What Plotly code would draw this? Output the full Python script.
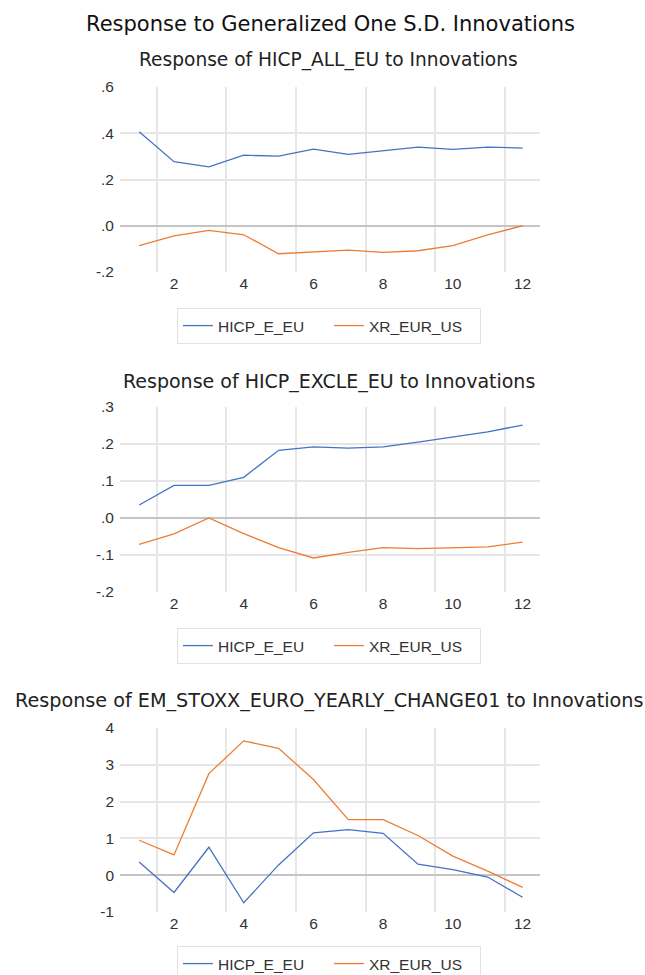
import plotly.graph_objects as go

periods = list(range(1, 13))
series_names = ["HICP_E_EU", "XR_EUR_US"]

p1_hicp = [0.406, 0.277, 0.255, 0.305, 0.301, 0.331, 0.309, 0.326, 0.340, 0.330, 0.340, 0.336]
p1_xr = [-0.086, -0.044, -0.020, -0.039, -0.121, -0.112, -0.105, -0.115, -0.108, -0.086, -0.039, 0.0]

p2_hicp = [0.035, 0.088, 0.088, 0.110, 0.183, 0.192, 0.189, 0.192, 0.205, 0.219, 0.233, 0.251]
p2_xr = [-0.071, -0.043, 0.0, -0.042, -0.080, -0.108, -0.093, -0.080, -0.083, -0.081, -0.078, -0.065]

p3_hicp = [0.36, -0.47, 0.76, -0.75, 0.28, 1.15, 1.24, 1.14, 0.30, 0.15, -0.05, -0.60]
p3_xr = [0.95, 0.55, 2.76, 3.65, 3.45, 2.60, 1.51, 1.51, 1.08, 0.52, 0.11, -0.33]

main_title = "Response to Generalized One S.D. Innovations"
panel_titles = [
    "Response of HICP_ALL_EU to Innovations",
    "Response of HICP_EXCLE_EU to Innovations",
    "Response of EM_STOXX_EURO_YEARLY_CHANGE01 to Innovations",
]
x_tickvals = [2, 4, 6, 8, 10, 12]
x_gridvals = [1.5, 3.5, 5.5, 7.5, 9.5, 11.5]
y_ticks = [
    ([-0.2, 0.0, 0.2, 0.4, 0.6], ["-.2", ".0", ".2", ".4", ".6"], [-0.2, 0.6]),
    ([-0.2, -0.1, 0.0, 0.1, 0.2, 0.3], ["-.2", "-.1", ".0", ".1", ".2", ".3"], [-0.2, 0.3]),
    ([-1, 0, 1, 2, 3, 4], ["-1", "0", "1", "2", "3", "4"], [-1, 4]),
]

colors = ["#4472C4", "#ED7D31"]
W, H = 645, 975
FONT = "Liberation Sans, Arial, sans-serif"
TFONT = "DejaVu Sans, sans-serif"

# plot area pixel boxes (top, bottom)
boxes = [(87, 272), (407, 592), (728, 912)]
x_left, x_right = 120, 540
legend_tops = [308, 628, 946]
title_ys = [60, 381, 700]
title_sizes = [18.6, 19.0, 19.2]

fig = go.Figure()
data = [(p1_hicp, p1_xr), (p2_hicp, p2_xr), (p3_hicp, p3_xr)]

for i, (hicp, xr) in enumerate(data):
    sfx = "" if i == 0 else str(i + 1)
    leg = "legend" if i == 0 else f"legend{i + 1}"
    for name, vals, col in zip(series_names, (hicp, xr), colors):
        fig.add_trace(go.Scatter(
            x=periods, y=vals, mode="lines", name=name,
            line=dict(color=col, width=1.3),
            xaxis="x" + sfx, yaxis="y" + sfx, legend=leg,
        ))
    top, bot = boxes[i]
    tv, tt, rng = y_ticks[i]
    fig.layout["xaxis" + sfx] = dict(
        domain=[x_left / W, x_right / W], range=[0.45, 12.5],
        tickvals=x_tickvals, ticktext=[str(v) for v in x_tickvals],
        showgrid=False, zeroline=False, showline=False, ticks="",
        tickfont=dict(size=15.5, color="#333333", family=FONT),
        minor=dict(tickvals=x_gridvals, showgrid=True, gridcolor="#e6e6e6", gridwidth=1.5, ticks=""),
        anchor="y" + sfx, fixedrange=True, automargin=False,
    )
    fig.layout["yaxis" + sfx] = dict(
        domain=[1 - bot / H, 1 - top / H], range=rng,
        tickvals=tv, ticktext=tt,
        showgrid=True, gridcolor="#e6e6e6", gridwidth=1.5,
        zeroline=True, zerolinecolor="#c4c4c4", zerolinewidth=1.5,
        showline=False, ticks="", ticklabelstandoff=5,
        tickfont=dict(size=15.5, color="#333333", family=FONT),
        anchor="x" + sfx, fixedrange=True, automargin=False,
    )
    fig.layout[leg] = dict(
        orientation="h", x=0.51, xanchor="center", y=1 - legend_tops[i] / H, yanchor="top",
        bordercolor="#e2e2e2", borderwidth=1, bgcolor="white",
        font=dict(size=15.5, color="#333333", family=FONT),
        itemwidth=30, tracegroupgap=0,
        entrywidth=106, entrywidthmode="pixels",
    )
    fig.add_annotation(
        text=panel_titles[i], x=0.51, y=1 - title_ys[i] / H, xref="paper", yref="paper",
        xanchor="center", yanchor="middle", showarrow=False,
        font=dict(size=title_sizes[i], color="#222222", family=TFONT),
    )

fig.add_annotation(
    text=main_title, x=0.512, y=1 - 24 / H, xref="paper", yref="paper",
    xanchor="center", yanchor="middle", showarrow=False,
    font=dict(size=21, color="#111111", family=TFONT),
)

fig.update_layout(
    width=W, height=H, margin=dict(l=0, r=0, t=0, b=0, autoexpand=False),
    paper_bgcolor="white", plot_bgcolor="white", showlegend=True,
)

fig.write_html("out.html")
